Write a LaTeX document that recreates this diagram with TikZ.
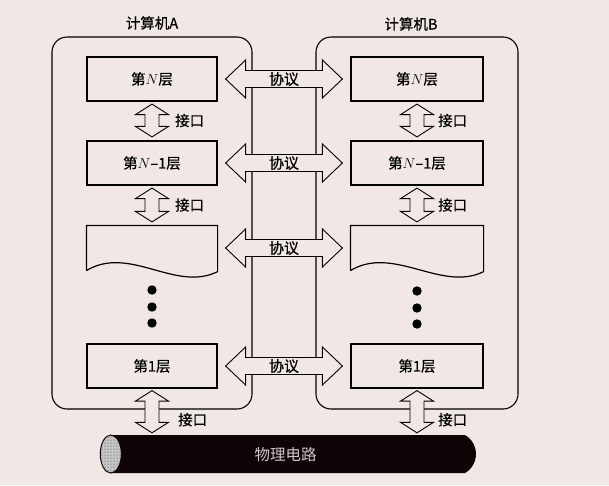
\documentclass[tikz,border=0pt]{standalone}
\usepackage{fontspec}
\setmainfont{Noto Sans CJK SC}[RawFeature={embolden=0.6}]
\newfontfamily\plaincjk{Noto Sans CJK SC}
\usepackage{tikz}
\usetikzlibrary{calc,shapes.misc,patterns}
\definecolor{Fondo}{RGB}{241,232,230}
\definecolor{Cable}{RGB}{14,4,6}
\definecolor{CableTexto}{RGB}{205,200,200}

% double block arrows, tip to tip
\newcommand{\protoarrow}[2]{%
  \draw[blockarrow] (#1) -- ($(#1)+(20,-19)$) -- ($(#1)+(20,-8.5)$) -- ($(#2)+(-20,-8.5)$)
    -- ($(#2)+(-20,-19)$) -- (#2) -- ($(#2)+(-20,19)$) -- ($(#2)+(-20,8.5)$)
    -- ($(#1)+(20,8.5)$) -- ($(#1)+(20,19)$) -- cycle;}
\newcommand{\ifacearrow}[2]{%
  \draw[blockarrow] (#1) -- ($(#1)+(16.5,10.5)$) -- ($(#1)+(7,10.5)$) -- ($(#2)+(7,-10.5)$)
    -- ($(#2)+(16.5,-10.5)$) -- (#2) -- ($(#2)+(-16.5,-10.5)$) -- ($(#2)+(-7,-10.5)$)
    -- ($(#1)+(-7,10.5)$) -- ($(#1)+(-16.5,10.5)$) -- cycle;}
\newcommand{\wavebox}[1]{%
  \draw[boxline] (#1.south west) -- (#1.north west) -- (#1.north east) -- ($(#1.south east)+(0,1)$)
    .. controls ($(#1.south east)+(-42,22)$) and ($(#1.south west)+(43,-26)$) .. (#1.south west);}

\begin{document}
\begin{tikzpicture}[x=1pt,y=-1pt,
  host/.style={draw,line width=1.1pt,rounded corners=15,minimum width=200,minimum height=372},
  boxline/.style={line width=1.2pt},
  layer/.style={draw,boxline,minimum width=130,minimum height=44,font=\fontsize{14.5}{16}\selectfont},
  blockarrow/.style={draw,line width=0.9pt,fill=Fondo,line join=miter},
  proto/.style={font=\fontsize{15}{16}\selectfont,inner sep=0},
  iface/.style={font=\fontsize{14.5}{16}\selectfont,inner sep=0,anchor=west},
  title/.style={font=\fontsize{14.5}{16}\selectfont},
  cable/.style={shape=rounded rectangle,rounded rectangle left arc=none,
    rounded rectangle arc length=120,fill=Cable,minimum width=365,minimum height=38,inner sep=0}]
  \useasboundingbox (0,0) rectangle (609,485);
  \fill[Fondo] (0,0) rectangle (609,485);

  % the two computers
  \node[host] (hostA) at (152,223) {};
  \node[host,minimum width=202] (hostB) at (417,223) {};
  \node[title] (titA) at (152,23) {计算机A};
  \node[title] (titB) at (411,24) {计算机B};

  % layers
  \node[layer] (a4) at (152,79) {第$N$层};
  \node[layer] (a3) at (152,163) {第$N$–1层};
  \node[layer,draw=none] (a2) at (152,248) {};
  \node[layer] (a1) at (152,366) {第1层};
  \node[layer,minimum width=132] (b4) at (417,79) {第$N$层};
  \node[layer,minimum width=132] (b3) at (417,163) {第$N$–1层};
  \node[layer,minimum width=132,draw=none] (b2) at (417,248) {};
  \node[layer,minimum width=132] (b1) at (417,366) {第1层};
  \wavebox{a2}
  \wavebox{b2}
  \foreach \yy in {290,307,323} {
    \fill (152,\yy) circle[radius=4.7pt];
    \fill (417,\yy+1) circle[radius=4.7pt];
  }

  % physical medium
  \node[cable] (wire) at (293.5,454) {};
  \filldraw[fill=gray!45,draw=Cable,line width=1pt] (wire.west) ellipse[x radius=10.5,y radius=19];
  \fill[pattern=dots,pattern color=black!80] (wire.west) ellipse[x radius=10,y radius=18.5];
  \node[font=\plaincjk\fontsize{15.5}{17}\selectfont,text=CableTexto] (wirelabel) at ($(wire.center)+(-8,1)$) {物理电路};

  % protocols between peer layers
  \foreach \k in {4,3,2,1} {
    \coordinate (pL\k) at ($(a\k.east)+(8,0)$);
    \coordinate (pR\k) at ($(b\k.west)+(-8,0)$);
    \protoarrow{pL\k}{pR\k}
    \node[proto] (p\k) at ($(pL\k)!0.5!(pR\k)$) {协议};
  }

  % interfaces between adjacent layers
  \foreach \ua/\ub/\n/\dx in {a4/a3/1/23,a3/a2/2/23,b4/b3/3/21,b3/b2/4/21} {
    \coordinate (iT\n) at ($(\ua.south)+(0,2.5)$);
    \coordinate (iB\n) at ($(\ub.north)+(0,-3.5)$);
    \ifacearrow{iT\n}{iB\n}
    \node[iface] (i\n) at ($(iT\n)!0.5!(iB\n)+(\dx,0)$) {接口};
  }
  \foreach \ua/\n/\dx in {a1/5/26,b1/6/21} {
    \coordinate (iT\n) at ($(\ua.south)+(0,2)$);
    \coordinate (iB\n) at ($(\ua.south |- wire.north)+(0,-2)$);
    \ifacearrow{iT\n}{iB\n}
    \node[iface] (i\n) at ($(iT\n)!0.5!(iB\n)+(\dx,8)$) {接口};
  }
\end{tikzpicture}
\end{document}
